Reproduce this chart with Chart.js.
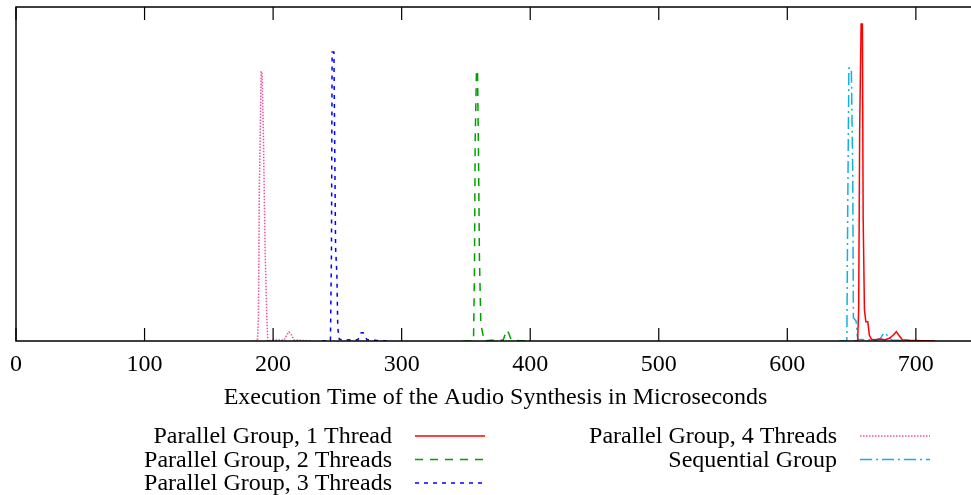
<!DOCTYPE html>
<html>
<head>
<meta charset="utf-8">
<script src="https://cdn.jsdelivr.net/npm/chart.js@4/dist/chart.umd.min.js"></script>
<style>
  html, body { margin: 0; padding: 0; background: #fff; overflow: hidden; }
  canvas { display: block; }
</style>
</head>
<body>
<canvas id="timesChart" width="980" height="495"></canvas>
<script>
// execution time (microseconds) and relative frequency, per group
const seriesLabels = [
    'Parallel Group, 1 Thread',
    'Parallel Group, 2 Threads',
    'Parallel Group, 3 Threads',
    'Parallel Group, 4 Threads',
    'Sequential Group'
]

const oneThreadTime = [652, 654.7, 655.5, 656.3, 657.4, 658.4, 659.0, 660.0, 661.1, 662.6, 663.8, 665.4, 668, 672, 676, 679.4, 682.5, 684.8, 687.2, 689.5, 695, 705, 715]
const oneThreadFreq = [0, 0, 0.093, 0.637, 0.949, 0.949, 0.37, 0.093, 0.058, 0.058, 0.018, 0.005, 0.004, 0.006, 0.004, 0.008, 0.018, 0.028, 0.015, 0.004, 0.002, 0.001, 0]

const twoThreadTime = [348, 355.9, 356.6, 357.2, 358.2, 359.0, 359.8, 360.5, 361.6, 363.2, 364.2, 370, 379.0, 380.5, 382.1, 383.6, 385.2, 392, 400]
const twoThreadFreq = [0, 0, 0.2, 0.6, 0.811, 0.811, 0.55, 0.25, 0.05, 0.02, 0, 0.002, 0.003, 0.02, 0.033, 0.02, 0.003, 0.001, 0]

const threeThreadTime = [238, 244.6, 245.4, 245.9, 247.3, 248.6, 249.6, 250.3, 251.5, 260, 266, 268.5, 270, 273, 280, 290]
const threeThreadFreq = [0, 0, 0.27, 0.865, 0.865, 0.28, 0.2, 0.04, 0.005, 0.003, 0.004, 0.025, 0.025, 0.004, 0.002, 0]

const fourThreadTime = [184, 187.8, 188.6, 189.3, 190.7, 191.4, 192.4, 193.8, 195.1, 195.9, 200, 208.5, 211, 212.4, 214, 216.3, 222, 230]
const fourThreadFreq = [0, 0, 0.072, 0.45, 0.806, 0.806, 0.63, 0.27, 0.07, 0, 0.003, 0.003, 0.02, 0.027, 0.02, 0.003, 0.002, 0]

const sequentialTime = [640, 646.3, 647.0, 647.9, 649.8, 650.9, 651.4, 653.5, 654.3, 655, 660, 668, 672.3, 674, 676, 678, 681.4, 686, 695]
const sequentialFreq = [0, 0, 0.4, 0.817, 0.817, 0.5, 0.07, 0.06, 0.02, 0.005, 0.004, 0.003, 0.006, 0.018, 0.025, 0.015, 0.003, 0.002, 0]

const xTickStep = 100
const xMin = 0
const xMax = 746

const toPoints = (xs, ys) => xs.map((x, i) => ({ x: x, y: ys[i] }))

const serif = 'Liberation Serif, Times New Roman, serif'

// gnuplot-like frame with inward ticks on bottom and top
const framePlugin = {
    id: 'frame',
    afterDraw(chart) {
        const ctx = chart.ctx
        const area = chart.chartArea
        const xScale = chart.scales.x
        ctx.save()
        ctx.strokeStyle = '#000'
        ctx.lineWidth = 1.5
        ctx.beginPath()
        ctx.moveTo(area.right + 10, area.top)
        ctx.lineTo(area.left, area.top)
        ctx.lineTo(area.left, area.bottom)
        ctx.lineTo(area.right + 10, area.bottom)
        ctx.stroke()
        ctx.lineWidth = 1.2
        xScale.ticks.forEach(t => {
            const px = xScale.getPixelForValue(t.value)
            ctx.beginPath()
            ctx.moveTo(px, area.bottom)
            ctx.lineTo(px, area.bottom - 13)
            ctx.moveTo(px, area.top)
            ctx.lineTo(px, area.top + 13)
            ctx.stroke()
        })
        ctx.restore()
    }
}

// key: text right aligned, line sample on the right, filled column by column
const keyPlugin = {
    id: 'key',
    afterDraw(chart) {
        const ctx = chart.ctx
        const textRight = [392, 837]
        const sampleX = [[415, 485], [860, 930]]
        const rows = 3
        ctx.save()
        ctx.font = '24px ' + serif
        ctx.textAlign = 'right'
        ctx.textBaseline = 'middle'
        chart.data.datasets.forEach((ds, i) => {
            const col = Math.floor(i / rows)
            const row = i % rows
            const y = 437 + row * 23.5
            ctx.fillStyle = '#000'
            ctx.fillText(ds.label, textRight[col], y)
            ctx.strokeStyle = ds.borderColor
            ctx.lineWidth = ds.borderWidth
            ctx.setLineDash(ds.borderDash || [])
            ctx.beginPath()
            ctx.moveTo(sampleX[col][0], y - 1)
            ctx.lineTo(sampleX[col][1], y - 1)
            ctx.stroke()
        })
        ctx.restore()
    }
}

new Chart(document.getElementById('timesChart'), {
    type: 'line',
    data: {
        datasets: [
            { label: seriesLabels[0], data: toPoints(oneThreadTime, oneThreadFreq), borderColor: '#ff0000', borderWidth: 1.5, borderDash: [] },
            { label: seriesLabels[1], data: toPoints(twoThreadTime, twoThreadFreq), borderColor: '#00a000', borderWidth: 1.5, borderDash: [8, 7] },
            { label: seriesLabels[2], data: toPoints(threeThreadTime, threeThreadFreq), borderColor: '#0000ff', borderWidth: 1.5, borderDash: [4, 5] },
            { label: seriesLabels[3], data: toPoints(fourThreadTime, fourThreadFreq), borderColor: '#f050a0', borderWidth: 1.5, borderDash: [1.5, 1.5] },
            { label: seriesLabels[4], data: toPoints(sequentialTime, sequentialFreq), borderColor: '#10b0e8', borderWidth: 1.5, borderDash: [12, 4, 2, 4] }
        ]
    },
    options: {
        responsive: false,
        animation: false,
        layout: { padding: { left: 16, top: 7, right: 5, bottom: 0 } },
        elements: {
            point: { radius: 0 },
            line: { tension: 0, fill: false }
        },
        plugins: {
            legend: { display: false },
            tooltip: { enabled: false }
        },
        scales: {
            y: { display: false, min: 0, max: 1 },
            x: {
                type: 'linear',
                min: xMin,
                max: xMax,
                grid: { display: false },
                border: { display: false },
                ticks: {
                    stepSize: xTickStep,
                    includeBounds: false,
                    maxRotation: 0,
                    padding: 1,
                    color: '#000',
                    font: { family: serif, size: 24 }
                },
                title: {
                    display: true,
                    text: 'Execution Time of the Audio Synthesis in Microseconds',
                    color: '#000',
                    font: { family: serif, size: 24 },
                    padding: { top: 4, bottom: 83 }
                },
                afterFit: scale => { scale.height = 154 }
            }
        }
    },
    plugins: [framePlugin, keyPlugin]
})
</script>
</body>
</html>
